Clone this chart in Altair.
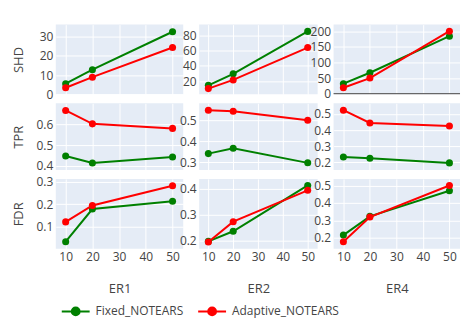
import altair as alt
import pandas as pd

n_nodes = [10, 20, 50]
graphs = ["ER1", "ER2", "ER4"]
metrics = ["SHD", "TPR", "FDR"]
methods = ["Fixed_NOTEARS", "Adaptive_NOTEARS"]
colors = ["green", "red"]

fixed_shd_er1 = [5.5, 12.8, 32.5]
adaptive_shd_er1 = [3.4, 8.9, 24.3]
fixed_shd_er2 = [14.7, 29.6, 84.8]
adaptive_shd_er2 = [10.4, 21.7, 63.8]
fixed_shd_er4 = [32, 67, 184]
adaptive_shd_er4 = [19, 50, 200]

fixed_tpr_er1 = [0.447, 0.413, 0.442]
adaptive_tpr_er1 = [0.668, 0.603, 0.581]
fixed_tpr_er2 = [0.341, 0.367, 0.297]
adaptive_tpr_er2 = [0.548, 0.543, 0.500]
fixed_tpr_er4 = [0.233, 0.225, 0.196]
adaptive_tpr_er4 = [0.523, 0.444, 0.425]

fixed_fdr_er1 = [0.033, 0.178, 0.213]
adaptive_fdr_er1 = [0.121, 0.194, 0.282]
fixed_fdr_er2 = [0.197, 0.236, 0.413]
adaptive_fdr_er2 = [0.195, 0.273, 0.394]
fixed_fdr_er4 = [0.215, 0.323, 0.470]
adaptive_fdr_er4 = [0.177, 0.319, 0.500]

series = {
    ("SHD", "ER1"): (fixed_shd_er1, adaptive_shd_er1),
    ("SHD", "ER2"): (fixed_shd_er2, adaptive_shd_er2),
    ("SHD", "ER4"): (fixed_shd_er4, adaptive_shd_er4),
    ("TPR", "ER1"): (fixed_tpr_er1, adaptive_tpr_er1),
    ("TPR", "ER2"): (fixed_tpr_er2, adaptive_tpr_er2),
    ("TPR", "ER4"): (fixed_tpr_er4, adaptive_tpr_er4),
    ("FDR", "ER1"): (fixed_fdr_er1, adaptive_fdr_er1),
    ("FDR", "ER2"): (fixed_fdr_er2, adaptive_fdr_er2),
    ("FDR", "ER4"): (fixed_fdr_er4, adaptive_fdr_er4),
}

rows = []
for (metric, graph), pair in series.items():
    for method, vals in zip(methods, pair):
        for n, v in zip(n_nodes, vals):
            rows.append({"metric": metric, "graph": graph, "method": method, "n": n, "value": v})
df = pd.DataFrame(rows)

y_domains = {
    ("SHD", "ER1"): [0, 36.2], ("SHD", "ER2"): [3, 93.6], ("SHD", "ER4"): [-2, 221],
    ("TPR", "ER1"): [0.379, 0.703], ("TPR", "ER2"): [0.263, 0.581], ("TPR", "ER4"): [0.152, 0.566],
    ("FDR", "ER1"): [0.002, 0.312], ("FDR", "ER2"): [0.169, 0.438], ("FDR", "ER4"): [0.137, 0.538],
}
y_ticks = {
    ("SHD", "ER1"): [0, 10, 20, 30], ("SHD", "ER2"): [20, 40, 60, 80], ("SHD", "ER4"): [0, 50, 100, 150, 200],
    ("TPR", "ER1"): [0.4, 0.5, 0.6], ("TPR", "ER2"): [0.3, 0.4, 0.5], ("TPR", "ER4"): [0.2, 0.3, 0.4, 0.5],
    ("FDR", "ER1"): [0.1, 0.2, 0.3], ("FDR", "ER2"): [0.2, 0.3, 0.4], ("FDR", "ER4"): [0.2, 0.3, 0.4, 0.5],
}
col_widths = {"ER1": 128, "ER2": 119, "ER4": 127}
row_heights = {"SHD": 70, "TPR": 67, "FDR": 70}

FONT = "Open Sans"
TXT = "#444"
color_scale = alt.Scale(domain=methods, range=colors)


def panel(metric, graph):
    sub = df[(df.metric == metric) & (df.graph == graph)]
    h = row_heights[metric]
    bottom = metric == "FDR"
    first = graph == "ER1"
    xax = dict(values=[10, 20, 30, 40, 50], grid=True, gridColor="white", gridWidth=1,
               domain=False, ticks=False, labels=bottom, labelPadding=3, title="")
    if bottom:
        xax.update(title=graph, titleY=40, titleBaseline="middle")
    yax = dict(values=y_ticks[(metric, graph)], grid=True, gridColor="white", gridWidth=1,
               domain=False, ticks=False, labelPadding=3, title="")
    if first:
        yax.update(title=metric, titleAngle=270, titleX=-37, titleY=h / 2,
                   titleBaseline="middle", titleAlign="center")
    x = alt.X("n:Q", scale=alt.Scale(domain=[6.3, 54], nice=False, zero=False), axis=alt.Axis(**xax))
    y = alt.Y("value:Q", scale=alt.Scale(domain=y_domains[(metric, graph)], nice=False, zero=False),
              axis=alt.Axis(**yax))
    color = alt.Color("method:N", scale=color_scale, sort=methods, title="")
    base = alt.Chart(sub).encode(x=x, y=y, color=color)
    layers = []
    if metric == "SHD" and graph == "ER4":
        layers.append(alt.Chart(pd.DataFrame({"value": [0]})).mark_rule(color=TXT, strokeWidth=1).encode(y=y))
    for meth in methods:
        f = base.transform_filter(alt.datum.method == meth)
        layers.append(f.mark_line(strokeWidth=2))
        layers.append(f.mark_point(filled=True, size=50, opacity=1))
    return alt.layer(*layers).properties(width=col_widths[graph], height=h)


panels = [panel(m, g) for m in metrics for g in graphs]
chart = alt.concat(*panels, columns=3, spacing={"row": 9, "column": 16}, bounds="flush").properties(
    padding={"left": 5, "top": 16, "right": 5, "bottom": 5}
).configure_view(fill="#E5ECF6", strokeWidth=0).configure_axis(
    labelFont=FONT, labelFontSize=12, labelColor=TXT,
    titleFont=FONT, titleFontSize=13, titleColor=TXT, titleFontWeight="normal",
).configure_legend(
    orient="none", legendX=5, legendY=273, direction="horizontal",
    labelFont=FONT, labelFontSize=12, labelColor=TXT, labelOffset=5, columnPadding=10,
    symbolType="M-1,0L1,0M-0.28,0A0.28,0.28,0,1,1,0.28,0A0.28,0.28,0,1,1,-0.28,0",
    symbolSize=784, symbolStrokeWidth=2, labelLimit=300, padding=0,
)

chart.save("out.html", embed_options={"renderer": "svg", "actions": False})
